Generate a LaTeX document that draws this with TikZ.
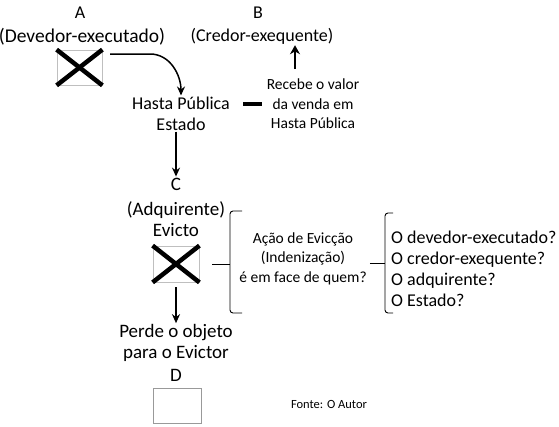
\documentclass[tikz,border=0pt]{standalone}
\usepackage{fontspec}
\setmainfont{Carlito}
\usetikzlibrary{arrows.meta,positioning,calc}
\tikzset{
  txt/.style={align=center, inner sep=1pt, font=\fontsize{18}{21}\selectfont},
  big/.style={align=center, inner sep=1pt, font=\fontsize{19}{21}\selectfont},
  small/.style={align=center, inner sep=1pt, font=\fontsize{15.5}{19.5}\selectfont},
  crossbox/.style={draw=black!25, line width=0.8pt, minimum width=46pt, minimum height=36pt, inner sep=0pt},
  xline/.style={line width=4.5pt},
  arr/.style={line width=1.5pt, -{Stealth[length=9pt,width=8pt]}},
  bigarr/.style={line width=2.8pt, -{Stealth[length=9pt,width=10pt]}},
  bracket/.style={line width=0.9pt, rounded corners=3pt},
}
\begin{document}
\begin{tikzpicture}[x=1pt,y=-1pt]
\useasboundingbox (0,0) rectangle (559,426);
% devedor
\node[txt] (letA) at (80,13) {A};
\node[txt, font=\fontsize{19.5}{21}\selectfont] (devedor) at (82,37) {(Devedor-executado)};
\node[crossbox, minimum width=45pt, minimum height=35pt] (boxA) at (79.5,67.5) {};
\draw[xline] (boxA.north west) -- (boxA.south east);
\draw[xline] (boxA.south west) -- (boxA.north east);
% credor
\node[txt] (letB) at (258,13) {B};
\node[txt] (credor) at (262,36) {(Credor-exequente)};
\node[small] (recebe) at (313,104) {Recebe o valor\\da venda em\\Hasta Pública};
\coordinate (up) at (295,69);
\draw[bigarr] (up) -- (credor.south -| up);
% hasta publica
\node[txt] (hasta) at (181,113.5) {Hasta Pública\\Estado};
\coordinate (startA) at (110,54);
\draw[arr] (startA) -- (150,54) to[out=0,in=90] (hasta.north);
\coordinate (d1) at (243,104);
\coordinate (d2) at (262,104);
\draw[line width=3.5pt] (d1) -- (d2);
% adquirente
\node[big] (letC) at (176,184) {C};
\node[big] (adq) at (176,219.5) {(Adquirente)\\Evicto};
\draw[arr] (hasta.south -| letC) -- (letC.north);
\node[crossbox] (boxC) at (176,264) {};
\draw[xline] (boxC.north west) -- (boxC.south east);
\draw[xline] (boxC.south west) -- (boxC.north east);
% evictor
\node[big] (perde) at (176,343) {Perde o objeto\\para o Evictor};
\node[big] (letD) at (176,375) {D};
\node[crossbox, draw=black!40, minimum width=48pt, minimum height=35pt] (boxD) at (177,405.5) {};
\draw[arr, shorten <=5pt] (boxC.south) -- (perde.north);
% chaves
\coordinate (b1) at (230,264);
\draw[bracket] (242,211) -- (230,211) -- (230,313) -- (242,313);
\draw[line width=0.9pt] ($(boxC.east)+(13,0)$) -- (b1);
\node[small] (acao) at (303,258.5) {Ação de Evicção\\(Indenização)\\é em face de quem?};
\coordinate (b2) at (385,263);
\draw[bracket] (393,213) -- (385,213) -- (385,313) -- (393,313);
\draw[line width=0.9pt] ($(acao.east |- b2)+(2,0)$) -- (b2);
\node[txt, align=left, anchor=west] (opts) at (390,268.5) {O devedor-executado?\\O credor-exequente?\\O adquirente?\\O Estado?};
\node[font=\fontsize{12.5}{15}\selectfont] (fonte) at (329,404) {Fonte: O Autor};
\end{tikzpicture}
\end{document}
